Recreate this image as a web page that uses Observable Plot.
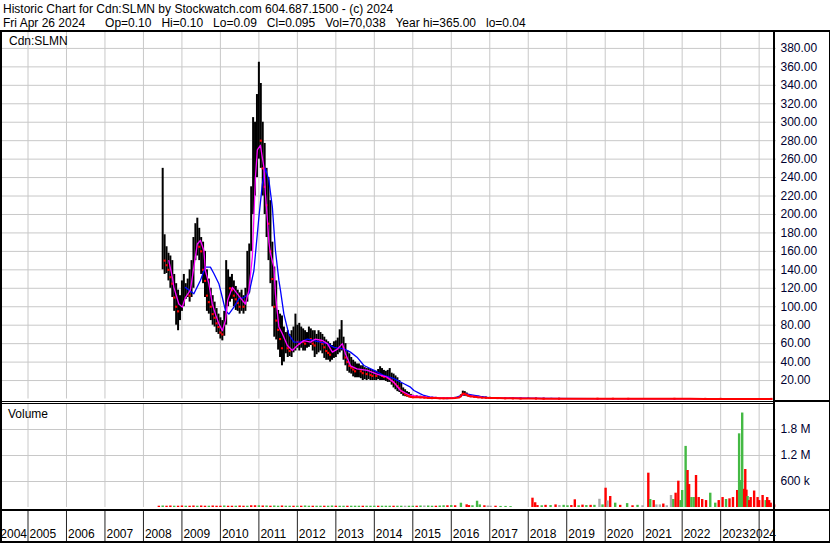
<!DOCTYPE html>
<html>
<head>
<meta charset="utf-8">
<script src="https://cdn.jsdelivr.net/npm/d3@7"></script>
<script src="https://cdn.jsdelivr.net/npm/@observablehq/plot@0.6"></script>
<style>
html,body{margin:0;padding:0;background:#fff;}
#wrap{position:relative;width:830px;height:543px;overflow:hidden;font-family:"Liberation Sans",Arial,sans-serif;font-size:12px;color:#000;background:#fff;}
.t{position:absolute;white-space:pre;line-height:14px;}
.ln{position:absolute;background:#000;}
.p{position:absolute;left:0;}
</style>
</head>
<body>
<div id="wrap">
 <div id="price" class="p" style="top:32px"></div>
 <div id="vol" class="p" style="top:404px"></div>
 <div id="years" class="p" style="top:511px"></div>
 <div class="ln" style="left:0;top:30px;width:830px;height:2px"></div>
 <div class="ln" style="left:0;top:30px;width:2px;height:513px"></div>
 <div class="ln" style="left:773px;top:30px;width:2px;height:513px"></div>
 <div class="ln" style="left:829px;top:30px;width:1px;height:513px"></div>
 <div class="ln" style="left:0;top:401px;width:830px;height:1px"></div>
 <div class="ln" style="left:0;top:403px;width:773px;height:1px"></div>
 <div class="ln" style="left:773px;top:400px;width:57px;height:2px"></div>
 <div class="ln" style="left:0;top:509px;width:830px;height:2px"></div>
 <div class="ln" style="left:0;top:541px;width:830px;height:2px"></div>
 <div class="t" style="left:3px;top:2px">Historic Chart for Cdn:SLMN by Stockwatch.com 604.687.1500 - (c) 2024</div>
 <div class="t" style="left:3px;top:16px">Fri Apr 26 2024      Op=0.10   Hi=0.10   Lo=0.09   Cl=0.095   Vol=70,038   Year hi=365.00   lo=0.04</div>
 <div class="t" style="left:9px;top:34px">Cdn:SLMN</div>
 <div class="t" style="left:8px;top:407px">Volume</div>
</div>
<script>
// ---------- data ----------
const years = [2004,2005,2006,2007,2008,2009,2010,2011,2012,2013,2014,2015,2016,2017,2018,2019,2020,2021,2022,2023,2024];
const priceTicks = [20,40,60,80,100,120,140,160,180,200,220,240,260,280,300,320,340,360,380];
const volTicks = [600000,1200000,1800000];
const volTickLabels = ["600 k","1.2 M","1.8 M"];

// price bars: time (decimal year), high, low, close
const barT = [2008.50,2008.55,2008.60,2008.65,2008.70,2008.75,2008.80,2008.85,2008.90,2008.95,
2009.00,2009.05,2009.10,2009.15,2009.20,2009.25,2009.30,2009.35,2009.40,2009.45,
2009.50,2009.55,2009.60,2009.65,2009.70,2009.75,2009.80,2009.85,2009.90,2009.95,
2010.00,2010.05,2010.10,2010.15,2010.20,2010.25,2010.30,2010.35,2010.40,2010.45,
2010.50,2010.55,2010.60,2010.65,2010.70,2010.75,2010.80,2010.85,2010.90,2010.95,
2011.00,2011.05,2011.10,2011.15,2011.20,2011.25,2011.30,2011.35,2011.40,2011.45,
2011.50,2011.55,2011.60,2011.65,2011.70,2011.75,2011.80,2011.85,2011.90,2011.95,
2012.00,2012.05,2012.10,2012.15,2012.20,2012.25,2012.30,2012.35,2012.40,2012.45,
2012.50,2012.55,2012.60,2012.65,2012.70,2012.75,2012.80,2012.85,2012.90,2012.95,
2013.00,2013.05,2013.10,2013.15,2013.20,2013.25,2013.30,2013.35,2013.40,2013.45,
2013.50,2013.55,2013.60,2013.65,2013.70,2013.75,2013.80,2013.85,2013.90,2013.95,
2014.00,2014.05,2014.10,2014.15,2014.20,2014.25,2014.30,2014.35,2014.40,2014.45,
2014.50,2014.55,2014.60,2014.65,2014.70,2014.75,2014.80,2014.85,2014.90,2014.95,
2015.00,2015.1,2015.2,2015.3,2015.4,2015.5,2015.6,2015.7,2015.8,2015.9,
2016.0,2016.1,2016.2,2016.25,2016.3,2016.35,2016.4,2016.45,2016.5,2016.6,
2016.7,2016.8,2016.9,2017.0,2017.2,2017.4,2017.6,2017.8,2018.0,2018.2,
2018.4,2018.6,2018.8,2019.0,2019.4,2019.8,2020.2,2020.6,2021.0,2021.4,
2021.8,2022.2,2022.6,2023.0,2023.4,2023.8,2024.2,2024.32];
const barHi = [250,178,165,158,155,150,135,125,118,112,
128,135,125,130,140,150,175,190,196,185,
175,170,160,140,130,120,112,105,98,92,
88,85,95,150,140,132,135,128,122,118,
115,118,112,120,160,168,230,305,300,330,
365,342,300,277,250,240,215,170,143,128,
96,92,90,78,72,74,70,74,78,92,
80,82,78,76,74,72,78,76,74,74,
70,74,72,70,67,64,62,60,58,62,
63,66,75,85,67,60,52,49,45,42,
40,38,38,36,36,34,33,33,32,31,
31,30,32,35,33,31,30,31,33,28,
27,25,23,20,17,12,10,8,7,5,
4,3.5,3.0,2.5,2.4,2.0,1.8,1.5,1.5,1.6,
1.5,1.8,2.5,4.5,8.5,8.0,6.5,5.0,4.0,3.5,
3.0,2.5,2.0,1.8,1.5,1.3,1.2,1.0,1.0,0.9,
0.8,0.7,0.6,0.5,0.5,0.4,0.4,0.3,0.35,0.4,
0.3,0.3,0.25,0.2,0.2,0.15,0.12,0.1];
const barLo = [140,135,136,128,120,110,95,80,74,85,
95,100,108,110,105,110,120,150,155,150,
135,125,110,95,92,85,80,78,72,70,
65,63,68,80,100,105,108,100,96,95,
92,95,92,95,105,115,160,200,220,240,
260,250,220,200,175,150,125,100,67,64,
53,45,36,40,49,45,46,45,50,52,
55,52,55,52,52,55,56,58,52,45,
48,50,52,49,44,42,42,40,42,44,
45,48,50,52,42,36,30,28,27,24,
23,23,23,22,20,21,20,21,20,20,
20,20,21,20,20,20,19,18,18,15,
12,10,8,7,5,3,2.5,2,1.5,1,
1,0.8,0.8,0.6,0.5,0.5,0.4,0.4,0.4,0.4,
0.5,0.6,0.8,1.5,3.0,3.0,2.5,2.0,1.5,1.2,
1.0,0.8,0.7,0.6,0.5,0.4,0.4,0.3,0.3,0.3,
0.2,0.2,0.2,0.15,0.15,0.1,0.1,0.08,0.08,0.1,
0.08,0.08,0.06,0.05,0.05,0.05,0.08,0.09];
const barCl = [175,150,145,140,132,125,110,100,95,98,
110,115,118,120,112,130,150,170,178,165,
160,140,128,112,105,100,92,88,82,78,
72,70,80,110,125,120,118,112,108,104,
100,105,100,108,130,150,200,260,270,290,
300,280,250,230,210,190,160,130,100,85,
75,65,55,58,60,55,52,54,60,65,
62,60,65,62,60,64,66,65,60,58,
62,65,62,60,56,52,50,48,50,52,
55,58,60,64,55,45,40,36,34,32,
30,30,31,30,28,28,27,28,26,25,
26,25,26,27,25,24,24,23,22,20,
18,16,14,12,9,7,5,4,3,2.5,
2,2.0,1.8,1.5,1.2,1.0,1.0,0.9,0.8,0.9,
0.9,1.1,1.5,3.0,6.0,5.5,4.5,3.5,3.0,2.5,
2.0,1.6,1.3,1.1,1.0,0.8,0.7,0.6,0.6,0.5,
0.4,0.4,0.3,0.3,0.3,0.25,0.2,0.15,0.2,0.2,
0.15,0.15,0.12,0.1,0.1,0.1,0.1,0.095];

// short moving average (magenta)
const magT = [2008.66,2008.75,2008.79,2008.92,2009.01,2009.09,2009.22,2009.31,2009.40,2009.48,
2009.57,2009.61,2009.70,2009.79,2009.87,2009.96,2010.05,2010.13,2010.19,2010.31,
2010.44,2010.57,2010.65,2010.74,2010.83,2010.87,2010.91,2010.96,2011.04,2011.13,
2011.17,2011.22,2011.26,2011.30,2011.39,2011.43,2011.52,2011.61,2011.74,2011.87,
2012.00,2012.17,2012.34,2012.47,2012.65,2012.78,2012.91,2013.04,2013.17,2013.25,
2013.38,2013.55,2013.82,2014.07,2014.33,2014.51,2014.68,2014.94,2015.37,2015.8,
2016.2,2016.33,2016.5,2016.8,2017.2,2018.0,2019.0,2021.0,2023.0,2024.32];
const magV = [150,132,121,103,99.6,110,118,143,168,172,
161,139,125,103,92,81.6,74,85,107,121,
114,107,103,118,154,197,240,270,275,251,
222,195,170,158,143,114,78,70.7,58,52.6,
58,63.4,61.6,65,63.4,60,50.8,54,60,49,
36,32.7,31,27,23.6,18,9.2,3.8,2,1.2,
1.8,5.5,3.5,1.8,1.0,0.6,0.3,0.2,0.12,0.1];

// long moving average (blue)
const bluT = [2009.09,2009.31,2009.48,2009.61,2009.74,2009.83,2009.96,2010.05,2010.13,2010.22,
2010.35,2010.48,2010.61,2010.74,2010.87,2011.00,2011.09,2011.17,2011.26,2011.35,
2011.43,2011.52,2011.56,2011.65,2011.78,2011.91,2012.08,2012.26,2012.43,2012.60,
2012.78,2012.95,2013.21,2013.38,2013.55,2013.73,2013.99,2014.25,2014.51,2014.77,
2014.94,2015.03,2015.20,2015.29,2015.46,2015.89,2016.11,2016.37,2016.76,2017.02,
2018.40,2019.88,2024.32];
const bluV = [121,114,128.5,143,143,136,125,110,96,92,
99.6,108.7,110,114,139,197,233,250,237,208,
161,128.5,118,92,70,61.6,61.6,65,63.4,61.6,
60,56,54.4,50.8,45.3,36.3,31,25.5,22,16.5,
12.8,9.2,5.6,3.8,2,0.5,1.5,5.6,2.7,1.3,
0.6,0.4,0.3];

// volume bars: time, volume, colour code (g up, r down, k unchanged)
const volT = [2008.4,2008.5,2008.6,2008.7,2008.8,2008.9,2009.0,2009.1,2009.2,2009.3,
2009.4,2009.5,2009.6,2009.7,2009.8,2009.9,2010.0,2010.1,2010.2,2010.3,
2010.4,2010.5,2010.6,2010.7,2010.8,2010.9,2011.0,2011.1,2011.2,2011.3,
2011.4,2011.5,2011.6,2011.7,2011.8,2011.9,2012.0,2012.1,2012.2,2012.3,
2012.4,2012.5,2012.6,2012.7,2012.8,2012.9,2013.0,2013.1,2013.2,2013.3,
2013.4,2013.5,2013.6,2013.7,2013.8,2013.9,2014.0,2014.1,2014.2,2014.3,
2014.4,2014.5,2014.6,2014.7,2014.8,2014.9,2015.0,2015.1,2015.2,2015.3,
2015.4,2015.5,2015.6,2015.7,2015.8,2015.9,2016.0,2016.1,2016.25,2016.4,
2016.46,2016.55,2016.67,2016.74,2016.86,2016.95,2017.02,2017.15,2017.28,2017.41,
2017.54,2018.11,2018.18,2018.24,2018.35,2018.45,2018.58,2018.71,2018.81,2018.92,
2019.02,2019.12,2019.21,2019.31,2019.41,2019.51,2019.62,2019.72,2019.85,2019.93,
2020.01,2020.06,2020.13,2020.26,2020.39,2020.57,2020.71,2020.84,2020.97,2021.12,
2021.17,2021.26,2021.33,2021.42,2021.51,2021.60,2021.71,2021.77,2021.83,2021.90,
2021.96,2022.00,2022.09,2022.14,2022.18,2022.24,2022.30,2022.36,2022.43,2022.52,
2022.62,2022.73,2022.86,2022.95,2023.05,2023.14,2023.23,2023.32,2023.43,2023.48,
2023.51,2023.56,2023.61,2023.64,2023.67,2023.70,2023.74,2023.78,2023.87,2023.96,
2024.00,2024.09,2024.17,2024.21,2024.26,2024.30,2024.39];
const volV = [30000,35000,30000,35000,30000,30000,35000,30000,30000,35000,
30000,35000,30000,30000,35000,30000,30000,35000,30000,30000,
30000,35000,30000,30000,40000,40000,40000,35000,35000,30000,
35000,30000,35000,30000,30000,30000,30000,30000,35000,30000,
30000,30000,30000,30000,30000,35000,30000,30000,30000,30000,
30000,30000,30000,30000,30000,30000,30000,30000,30000,30000,
30000,30000,30000,30000,30000,30000,30000,30000,35000,35000,
35000,30000,30000,35000,40000,40000,45000,40000,99000,62000,
45000,40000,145000,60000,40000,35000,30000,30000,25000,25000,
20000,215000,110000,45000,40000,50000,45000,60000,45000,50000,
40000,45000,178000,40000,55000,45000,50000,50000,190000,60000,
445000,150000,254000,100000,50000,90000,40000,50000,40000,792000,
185000,160000,60000,60000,80000,40000,277000,185000,330000,607000,
160000,392000,1410000,854000,530000,230000,230000,738000,230000,185000,
160000,330000,100000,160000,230000,185000,200000,230000,392000,1700000,
621000,2180000,420000,877000,400000,254000,160000,230000,380000,230000,
160000,277000,160000,230000,160000,100000,60000];
const volC = ["r","g","r","r","g","r","r","g","r","r",
"g","r","r","g","r","r","r","g","r","r",
"g","r","r","g","r","r","g","r","g","r",
"g","g","r","g","g","r","g","r","g","g",
"r","g","g","r","g","g","r","g","g","r",
"g","g","g","r","g","g","g","r","g","g",
"g","r","g","g","k","g","g","r","g","k",
"g","g","r","g","g","r","g","r","g","r",
"r","g","g","g","r","k","k","r","g","g",
"g","r","r","r","g","r","g","r","k","g",
"g","r","r","g","r","g","r","g","k","g",
"r","k","r","g","r","g","r","g","k","r",
"g","r","k","k","r","k","k","g","r","r",
"g","g","g","r","r","g","g","r","r","r",
"r","g","g","r","r","g","r","r","r","g",
"g","g","r","r","r","g","r","r","r","r",
"r","r","g","r","r","r","r"];

// ---------- build ----------
const bars = barT.map((t,i)=>({t, hi:barHi[i], lo:barLo[i], cl:barCl[i], down: i>0 && barCl[i] < barCl[i-1]}));
const mag = magT.map((t,i)=>({t, v:magV[i]}));
const blu = bluT.map((t,i)=>({t, v:bluV[i]}));
const vols = volT.map((t,i)=>({t, v:volV[i], c:volC[i]}));
const colorOf = {g:"#44b944", r:"#ff0000", k:"#a8a8a8"};

const X0 = 2004.3373, X1 = 2024.4514;
const FONT = '"Liberation Sans", Arial, sans-serif';
const GRID = "#c8c8c8";
const style = {background:"transparent", fontFamily:FONT, fontSize:"12px", overflow:"visible", color:"#000"};

const price = Plot.plot({
  width:830, height:368, marginLeft:2, marginRight:54, marginTop:0, marginBottom:1.5,
  style,
  x:{domain:[X0,X1], axis:null},
  y:{domain:[0,397.25], axis:null, label:null},
  marks:[
    Plot.ruleX(years, {x:d=>d, stroke:GRID, strokeWidth:1}),
    Plot.ruleY(priceTicks, {y:d=>d, stroke:GRID, strokeWidth:1}),
    Plot.ruleX(bars, {x:"t", y1:"lo", y2:"hi", stroke:"#000", strokeWidth:2}),
    Plot.dot(bars.filter(d=>d.down), {x:"t", y:"cl", symbol:"square", r:1.2, fill:"#ff0000", stroke:null}),
    Plot.line(blu, {x:"t", y:"v", stroke:"#0000ff", strokeWidth:1.3}),
    Plot.line(mag, {x:"t", y:"v", stroke:"#ff00ff", strokeWidth:1.3}),
    Plot.line(bars.filter(d=>d.t>=2014.9), {x:"t", y:"cl", stroke:"#ff0000", strokeWidth:2}),
    Plot.axisY(priceTicks, {anchor:"right", tickSize:0, tickPadding:4, tickFormat:d=>d.toFixed(2), fill:"#000030", label:null})
  ]
});
document.getElementById("price").append(price);

const vol = Plot.plot({
  width:830, height:105, marginLeft:2, marginRight:54, marginTop:0, marginBottom:2,
  style,
  x:{domain:[X0,X1], axis:null},
  y:{domain:[0,2376923], axis:null, label:null},
  marks:[
    Plot.ruleX(years, {x:d=>d, stroke:GRID, strokeWidth:1}),
    Plot.ruleY(volTicks, {y:d=>d, stroke:GRID, strokeWidth:1}),
    Plot.ruleX(vols, {x:"t", y1:0, y2:"v", stroke:d=>colorOf[d.c], strokeWidth:2.4}),
    Plot.axisY(volTicks, {anchor:"right", tickSize:0, tickPadding:4, tickFormat:d=>volTickLabels[volTicks.indexOf(d)], fill:"#000030", label:null})
  ]
});
document.getElementById("vol").append(vol);

const yr = Plot.plot({
  width:776, height:30, marginLeft:2, marginRight:0, marginTop:0, marginBottom:0,
  style:{...style, overflow:"hidden"},
  x:{domain:[X0,X1], axis:null},
  marks:[
    Plot.ruleX(years, {x:d=>d, stroke:"#222", strokeWidth:1}),
    Plot.text(years.slice(1,-1), {x:d=>d, text:d=>String(d), textAnchor:"start", dx:1.5, frameAnchor:"bottom", lineAnchor:"bottom", dy:-4, fill:"#000"}),
    Plot.text(years.slice(0,1), {x:d=>d+1, text:d=>String(d), textAnchor:"end", dx:-1, frameAnchor:"bottom", lineAnchor:"bottom", dy:-4, fill:"#000"}),
    Plot.text(years.slice(-1), {x:()=>X1, text:d=>String(d), textAnchor:"end", dx:-0.5, frameAnchor:"bottom", lineAnchor:"bottom", dy:-4, fill:"#000"})
  ]
});
document.getElementById("years").append(yr);
</script>
</body>
</html>
